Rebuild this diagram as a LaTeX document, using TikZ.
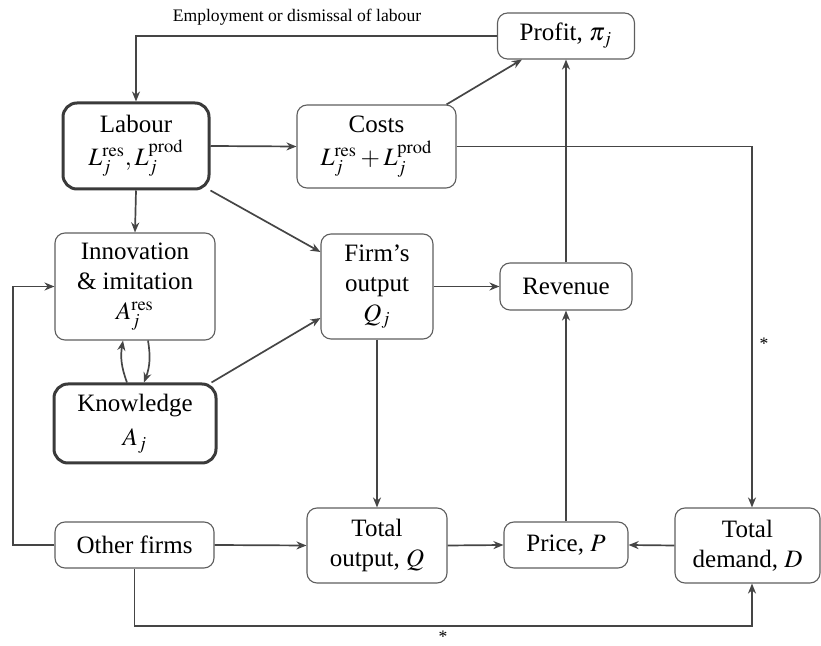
\documentclass[tikz,border=0pt]{standalone}
\usepackage{mathptmx}
\usepackage{fontspec}
\setmainfont{Liberation Serif}
\usetikzlibrary{arrows.meta,calc}
\definecolor{boxgray}{HTML}{5E5E5E}
\definecolor{thickgray}{HTML}{3A3A3A}
\definecolor{arrgray}{HTML}{454545}
\newcommand{\mainsz}{\fontsize{12.5}{15}\selectfont}
\newcommand{\smallsz}{\fontsize{8.8}{10}\selectfont}
\begin{document}
\begin{tikzpicture}[x=0.5pt,y=-0.5pt,
  box/.style={draw=boxgray, line width=0.55pt, rounded corners=5pt, align=center, inner sep=1pt, font=\mainsz},
  thickbox/.style={box, draw=thickgray, line width=1.5pt, rounded corners=7pt},
  arr/.style={draw=arrgray, line width=0.85pt, -{Stealth[length=5pt,width=4pt,inset=1.6pt]}},
  lbl/.style={font=\smallsz, inner sep=0pt}]
\useasboundingbox (0,0) rectangle (821,646);
% nodes
\node[box, minimum width=68.5pt, minimum height=23pt] (profit) at (566,36) {Profit, $\pi_j$};
\node[thickbox, minimum width=73pt, minimum height=43pt] (labour) at (136,146) {Labour\\[1.5pt] $L_j^{\mathrm{res}},L_j^{\mathrm{prod}}$};
\node[box, minimum width=79.5pt, minimum height=41.5pt] (costs) at (376.5,146.5) {Costs\\[1.5pt] $L_j^{\mathrm{res}}+L_j^{\mathrm{prod}}$};
\node[box, minimum width=80pt, minimum height=53.5pt] (innov) at (135,286.5) {Innovation\\ \& imitation\\ $A_j^{\mathrm{res}}$};
\node[box, minimum width=56pt, minimum height=52.5pt] (firm) at (377,286.5) {Firm's\\ output\\ $Q_j$};
\node[box, minimum width=66pt, minimum height=23.5pt] (revenue) at (566,286.5) {Revenue};
\node[thickbox, minimum width=81pt, minimum height=39.5pt] (know) at (135,423.5) {Knowledge\\[2pt] $A_j$};
\node[box, minimum width=79.5pt, minimum height=23pt] (other) at (134.5,545) {Other firms};
\node[box, minimum width=70pt, minimum height=37.5pt] (tout) at (377,545.5) {Total\\ output, $Q$};
\node[box, minimum width=62pt, minimum height=23pt] (price) at (566,545) {Price, $P$};
\node[box, minimum width=72.5pt, minimum height=37.5pt] (demand) at (747.5,545.5) {Total\\ demand, $D$};
% labels
\node[lbl] (emp) at (297,17) {Employment or dismissal of labour};
\node[lbl] (star1) at (764,344) {*};
\node[lbl] (star2) at (443,637) {*};
% helper coordinates
\coordinate (cl) at (13,545);
\coordinate (cb) at (752,626);
% connectors
\draw[arr] (profit.west) -| (labour.north);
\draw[arr] (labour.east) -- (costs.west);
\draw[arr] ([xshift=-5pt]costs.north east) -- ([xshift=12.5pt]profit.south west);
\draw[arr] (costs.east) -| ([xshift=2.25pt]demand.north);
\draw[arr] (revenue.north) -- (profit.south);
\draw[arr] (labour.south) -- (innov.north);
\draw[arr] (labour.south east) -- ([yshift=17.25pt]firm.west);
\draw[arr] ([xshift=-3pt]know.north east) -- ([yshift=-15.75pt]firm.west);
\draw[arr] ([xshift=-4pt]know.north) to[bend left=15] ([xshift=-6pt]innov.south);
\draw[arr] ([xshift=6.5pt]innov.south) to[bend left=15] ([xshift=4.5pt]know.north);
\draw[arr] (firm.east) -- (revenue.west);
\draw[arr] (firm.south) -- (tout.north);
\draw[arr] (other.east) -- (tout.west);
\draw[arr] (tout.east) -- (price.west);
\draw[arr] (demand.west) -- (price.east);
\draw[arr] (price.north) -- (revenue.south);
\draw[arr] (other.west) -- (cl) |- (innov.west);
\draw[arr] (other.south) |- (cb) -- ([xshift=2.25pt]demand.south);
\end{tikzpicture}
\end{document}
